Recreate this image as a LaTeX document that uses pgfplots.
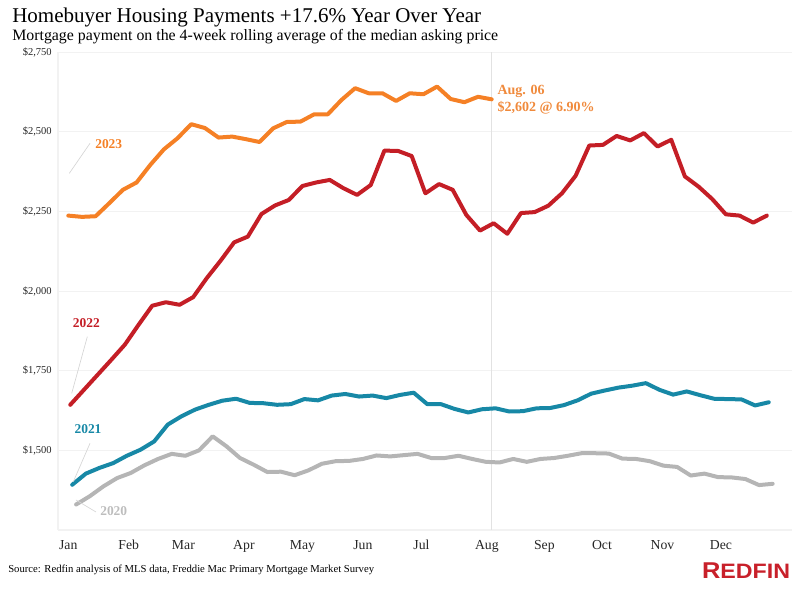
\documentclass[border=0pt]{standalone}
\usepackage{pgfplots}
\pgfplotsset{compat=1.18}
\usepackage{pgfplotstable}
\usepackage{fontspec}
\setmainfont{Liberation Serif}
\newfontfamily\logofont{Liberation Sans}
\definecolor{c23}{HTML}{F58025}
\definecolor{c23t}{HTML}{F08A3C}
\definecolor{c22}{HTML}{C41E26}
\definecolor{c21}{HTML}{1788A6}
\definecolor{c20}{HTML}{B5B5B5}
\definecolor{c20t}{HTML}{BDBDBD}
\definecolor{gridc}{HTML}{F2F2F2}
\definecolor{vline}{HTML}{E2E2E2}
\definecolor{leader}{HTML}{D5D5D5}
\definecolor{logored}{HTML}{C8202A}

\pgfplotstableread{
x y
1 2237
8 2233
15 2235
22 2276
29 2318
36 2341
43 2396
50 2445
57 2480
64 2524
71 2512
78 2482
85 2485
92 2477
99 2468
106 2511
113 2531
120 2532
127 2555
134 2555
141 2600
148 2637
155 2621
162 2621
169 2597
176 2621
183 2618
190 2642
197 2603
204 2593
211 2610
218 2602
}\tabA

\pgfplotstableread{
x y
2 1643
9 1690
16 1737
23 1784
30 1832
37 1894
44 1954
51 1965
58 1957
65 1981
72 2041
79 2095
86 2153
93 2171
100 2242
107 2269
114 2286
121 2330
128 2341
135 2349
142 2323
149 2302
156 2333
163 2441
170 2440
177 2424
184 2307
191 2336
198 2318
205 2239
212 2190
219 2213
226 2180
233 2245
240 2248
247 2268
254 2307
261 2362
268 2457
275 2459
282 2487
289 2473
296 2496
303 2454
310 2475
317 2360
324 2328
331 2289
338 2241
345 2237
352 2215
359 2237
}\tabB

\pgfplotstableread{
x y
3 1392
10 1427
17 1445
24 1460
31 1483
38 1502
45 1528
52 1581
59 1607
66 1628
73 1643
80 1656
87 1662
94 1649
101 1648
108 1643
115 1645
122 1661
129 1657
136 1672
143 1677
150 1669
157 1672
164 1664
171 1674
178 1681
185 1645
192 1645
199 1630
206 1619
213 1629
220 1632
227 1622
234 1623
241 1632
248 1633
255 1642
262 1657
269 1678
276 1688
283 1697
290 1703
297 1711
304 1690
311 1675
318 1685
325 1673
332 1662
339 1661
346 1660
353 1641
360 1651
}\tabC

\pgfplotstableread{
x y
5 1330
12 1356
19 1387
26 1413
33 1429
40 1453
47 1473
54 1489
61 1483
68 1500
75 1544
82 1513
89 1476
96 1455
103 1432
110 1433
117 1422
124 1437
131 1458
138 1466
145 1467
152 1473
159 1484
166 1481
173 1485
180 1489
187 1476
194 1476
201 1483
208 1473
215 1464
222 1462
229 1473
236 1464
243 1473
250 1476
257 1483
264 1491
271 1491
278 1490
285 1474
292 1473
299 1466
306 1452
313 1448
320 1421
327 1427
334 1416
341 1415
348 1410
355 1391
362 1395
}\tabD

\begin{document}
\begin{tikzpicture}[x=1pt,y=1pt]
% canvas 807x599 px -> 605.25pt x 449.25pt
\path[use as bounding box] (0,0) rectangle (605.25,449.25);
\begin{axis}[
  at={(43.5pt,51.75pt)}, anchor=south west,
  scale only axis, width=550.5pt, height=358.35pt,
  xmin=-4.28, xmax=371.9, ymin=1250, ymax=2750,
  axis x line*=bottom, axis y line*=left,
  axis line style={-, draw=gridc, line width=0.8pt},
  xtick={1,32,60,91,121,152,182,215.5,245,274.5,305.5,335.5},
  xticklabels={Jan,Feb,Mar,Apr,May,Jun,Jul,Aug,Sep,Oct,Nov,Dec},
  ytick={1500,1750,2000,2250,2500,2750},
  yticklabels={{\$1,500},{\$1,750},{\$2,000},{\$2,250},{\$2,500},{\$2,750}},
  major tick length=0pt,
  ymajorgrids, major grid style={draw=gridc, line width=0.6pt},
  xticklabel style={font=\fontsize{10.3}{12}\selectfont, anchor=base, yshift=-14.5pt, text=black!85},
  yticklabel style={font=\fontsize{7.9}{9}\selectfont, anchor=east, inner sep=0pt, xshift=-4.5pt, text=black!85},
  clip=false,
  every axis plot/.append style={line width=3pt, line join=round, line cap=round},
]
\addplot[draw=vline, line width=0.9pt, line cap=butt] coordinates {(218,1250) (218,2750)};
\addplot[draw=c20] table[x=x,y=y] {\tabD};
\addplot[draw=c21] table[x=x,y=y] {\tabC};
\addplot[draw=c22] table[x=x,y=y] {\tabB};
\addplot[draw=c23] table[x=x,y=y] {\tabA};
\end{axis}
% titles
\node[anchor=base west, inner sep=0pt, font=\fontsize{15.75}{18}\selectfont] at (9,432.2) {Homebuyer Housing Payments +17.6\% Year Over Year};
\node[anchor=base west, inner sep=0pt, font=\fontsize{11.9}{14}\selectfont] at (9,418.7) {Mortgage payment on the 4-week rolling average of the median asking price};
% annotation
\node[anchor=base west, inner sep=0pt, text=c23t, font=\bfseries\fontsize{10.5}{12}\selectfont] at (373,378) {Aug. 06};
\node[anchor=base west, inner sep=0pt, text=c23t, font=\bfseries\fontsize{10.5}{12}\selectfont] at (373,365.5) {\$2,602 @ 6.90\%};
% year labels with leader lines
\draw[leader, line width=0.5pt] (51.98,319.25) -- (67.5,341.75);
\node[anchor=base west, inner sep=0pt, text=c23, font=\bfseries\fontsize{10.1}{12}\selectfont] at (71.25,338) {2023};
\draw[leader, line width=0.5pt] (53.78,154.25) -- (65.5,196.75);
\node[anchor=base west, inner sep=0pt, text=c22, font=\bfseries\fontsize{10.1}{12}\selectfont] at (54.5,203.75) {2022};
\draw[leader, line width=0.5pt] (55,88) -- (67.5,116.75);
\node[anchor=base west, inner sep=0pt, text=c21, font=\bfseries\fontsize{10.1}{12}\selectfont] at (55.7,123.75) {2021};
\draw[leader, line width=0.5pt] (57,74.25) -- (72,65.25);
\node[anchor=base west, inner sep=0pt, text=c20t, font=\bfseries\fontsize{10.1}{12}\selectfont] at (75,62.5) {2020};
% source
\node[anchor=base west, inner sep=0pt, font=\fontsize{8}{10}\selectfont] at (6,19.5) {Source: Redfin analysis of MLS data, Freddie Mac Primary Mortgage Market Survey};
% logo
\node[anchor=south west, inner sep=0pt, text=logored] at (526.3,15.5) {\resizebox{66pt}{11.8pt}{\logofont\bfseries{\fontsize{17}{17}\selectfont R}{\fontsize{15.5}{15}\selectfont EDFIN}}};
\end{tikzpicture}
\end{document}
